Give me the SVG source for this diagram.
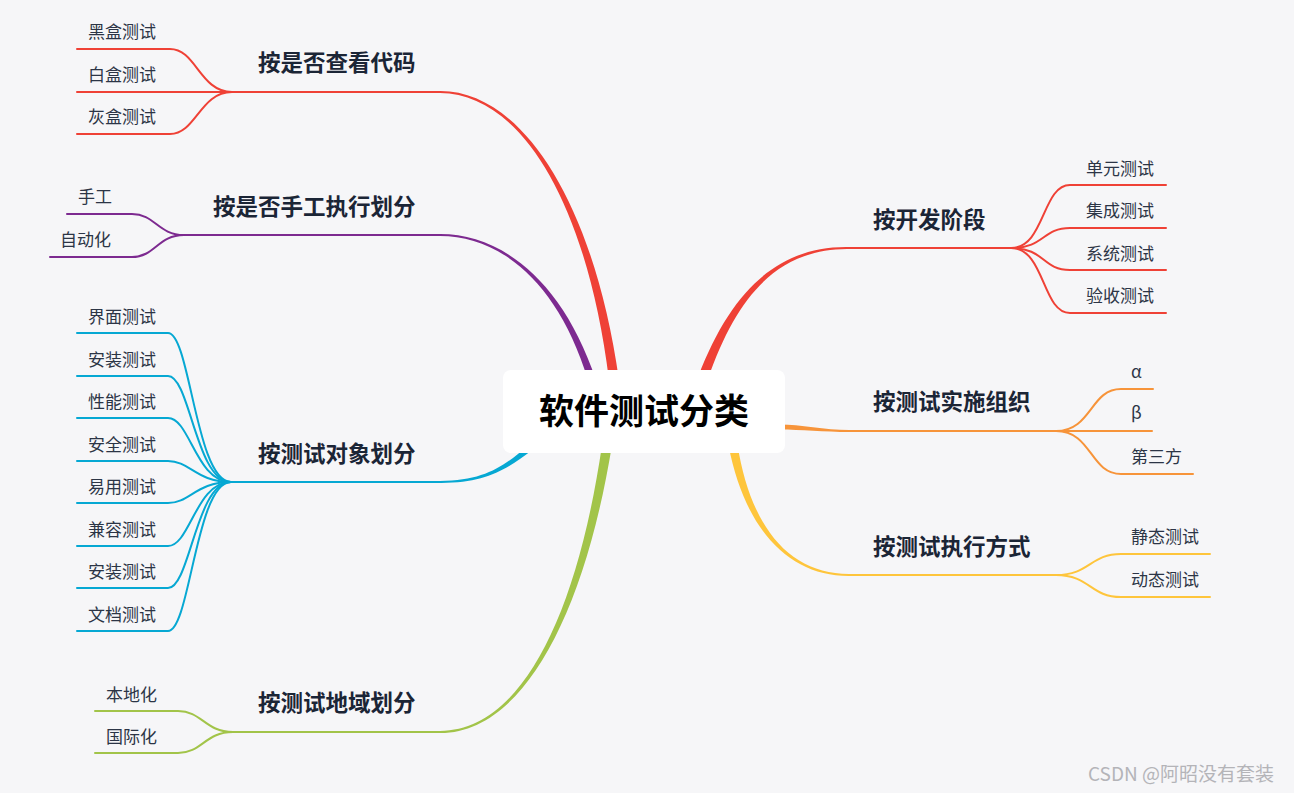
<svg xmlns="http://www.w3.org/2000/svg" width="1294" height="793" viewBox="0 0 1294 793">
<style>
.bg{fill:#f6f6f8}
.ln{fill:none;stroke-width:2;stroke-linecap:round}
.lbl{font-family:"Noto Sans CJK SC","Noto Sans",sans-serif;font-weight:bold;font-size:22.5px;fill:#1b2536}
.leaf{font-family:"Noto Sans CJK SC","Noto Sans",sans-serif;font-size:17px;fill:#2c3546}
.root{font-family:"Noto Sans CJK SC","Noto Sans",sans-serif;font-weight:bold;font-size:35px;fill:#000}
.red{stroke:#ef4136}.redf{fill:#ef4136}
.pur{stroke:#7d2a90}.purf{fill:#7d2a90}
.cya{stroke:#06a8d3}.cyaf{fill:#06a8d3}
.grn{stroke:#a2c449}.grnf{fill:#a2c449}
.org{stroke:#f7943a}.orgf{fill:#f7943a}
.yel{stroke:#fec53c}.yelf{fill:#fec53c}
.wm{font-family:"Noto Sans CJK SC","Noto Sans",sans-serif;font-size:19px;fill:#a9a9ae;opacity:0.85}
</style>
<rect class="bg" x="0" y="0" width="1294" height="793"/>
<g id="connectors">
  <path class="redf" d="M440,91 C520,90.5 593.3,198.9 619,380 L609,380 C586.7,201.1 520,93.5 440,93 Z"/>
  <path class="purf" d="M440,234 C500,233.8 562.1,278.65 596,380 L588,380 C557.9,281.35 500,236.2 440,236 Z"/>
  <path class="cyaf" d="M440,481 C485,480.7 503.7,466.2 528.1,445.7 L531.9,450.3 C506.3,469.8 485,483.3 440,483 Z"/>
  <path class="grnf" d="M440,731 C520,730.5 576.6,619 602,445 L612,445 C583.4,621 520,733.5 440,733 Z"/>
  <path class="redf" d="M847,247 C780,246.5 732,288.2 698.3,376.3 L707.7,379.7 C738,291.8 780,249.5 847,249 Z"/>
  <path class="orgf" d="M849,430 C825,430 800,424.5 780,424.5 L780,429.5 C800,429.5 825,432 849,432 Z"/>
  <path class="yelf" d="M849,574 C790,573.8 750.8,528.8 737.4,444.2 L728.6,445.8 C745.2,531.2 790,576.2 849,576 Z"/>

  <path class="ln red" d="M230,92 H440"/>
  <path class="ln red" d="M77,49 H170 C196,49 200,92 232,92"/>
  <path class="ln red" d="M77,92 H232"/>
  <path class="ln red" d="M77,134 H170 C196,134 200,92 232,92"/>

  <path class="ln pur" d="M182,235 H440"/>
  <path class="ln pur" d="M67,214 H132 C155,214 158,235 184,235"/>
  <path class="ln pur" d="M50,257 H132 C155,257 158,235 184,235"/>

  <path class="ln cya" d="M229,482 H440"/>
  <path class="ln cya" d="M77,333 H168 C190,333 196,482 231,482"/>
  <path class="ln cya" d="M77,376 H168 C190,376 196,482 231,482"/>
  <path class="ln cya" d="M77,418 H168 C190,418 196,482 231,482"/>
  <path class="ln cya" d="M77,461 H168 C190,461 196,482 231,482"/>
  <path class="ln cya" d="M77,503 H168 C190,503 196,482 231,482"/>
  <path class="ln cya" d="M77,546 H168 C190,546 196,482 231,482"/>
  <path class="ln cya" d="M77,588 H168 C190,588 196,482 231,482"/>
  <path class="ln cya" d="M77,631 H168 C190,631 196,482 231,482"/>

  <path class="ln grn" d="M231,732 H440"/>
  <path class="ln grn" d="M95,711 H178 C202,711 205,732 233,732"/>
  <path class="ln grn" d="M95,753 H178 C202,753 205,732 233,732"/>

  <path class="ln red" d="M847,248 H1013"/>
  <path class="ln red" d="M1011,248 C1045,248 1042,185 1070,185 H1166"/>
  <path class="ln red" d="M1011,248 C1045,248 1042,228 1070,228 H1166"/>
  <path class="ln red" d="M1011,248 C1045,248 1042,270 1070,270 H1166"/>
  <path class="ln red" d="M1011,248 C1045,248 1042,313 1070,313 H1166"/>

  <path class="ln org" d="M849,431 H1058"/>
  <path class="ln org" d="M1056,431 C1092,431 1090,389 1121,389 H1153"/>
  <path class="ln org" d="M1056,431 H1152"/>
  <path class="ln org" d="M1056,431 C1092,431 1090,474 1121,474 H1193"/>

  <path class="ln yel" d="M849,575 H1058"/>
  <path class="ln yel" d="M1056,575 C1090,575 1090,554 1121,554 H1210"/>
  <path class="ln yel" d="M1056,575 C1090,575 1090,597 1121,597 H1210"/>
</g>

<g id="root">
  <rect x="503" y="370" width="282" height="83" rx="8" fill="#ffffff"/>
  <text class="root" x="644" y="424" text-anchor="middle">软件测试分类</text>
</g>

<g id="n-code"><text class="lbl" x="258" y="71">按是否查看代码</text></g>
<g id="n-black"><text class="leaf" x="88" y="38">黑盒测试</text></g>
<g id="n-white"><text class="leaf" x="88" y="81">白盒测试</text></g>
<g id="n-gray"><text class="leaf" x="88" y="123">灰盒测试</text></g>

<g id="n-manual"><text class="lbl" x="213" y="215">按是否手工执行划分</text></g>
<g id="n-hand"><text class="leaf" x="78" y="203">手工</text></g>
<g id="n-auto"><text class="leaf" x="60" y="246">自动化</text></g>

<g id="n-object"><text class="lbl" x="258" y="462">按测试对象划分</text></g>
<g id="n-ui"><text class="leaf" x="88" y="323">界面测试</text></g>
<g id="n-install1"><text class="leaf" x="88" y="366">安装测试</text></g>
<g id="n-perf"><text class="leaf" x="88" y="408">性能测试</text></g>
<g id="n-sec"><text class="leaf" x="88" y="451">安全测试</text></g>
<g id="n-usab"><text class="leaf" x="88" y="493">易用测试</text></g>
<g id="n-compat"><text class="leaf" x="88" y="536">兼容测试</text></g>
<g id="n-install2"><text class="leaf" x="88" y="578">安装测试</text></g>
<g id="n-doc"><text class="leaf" x="88" y="621">文档测试</text></g>

<g id="n-region"><text class="lbl" x="258" y="711">按测试地域划分</text></g>
<g id="n-local"><text class="leaf" x="106" y="701">本地化</text></g>
<g id="n-intl"><text class="leaf" x="106" y="743">国际化</text></g>

<g id="n-stage"><text class="lbl" x="873" y="228">按开发阶段</text></g>
<g id="n-unit"><text class="leaf" x="1086" y="175">单元测试</text></g>
<g id="n-integ"><text class="leaf" x="1086" y="217">集成测试</text></g>
<g id="n-system"><text class="leaf" x="1086" y="260">系统测试</text></g>
<g id="n-accept"><text class="leaf" x="1086" y="302">验收测试</text></g>

<g id="n-org"><text class="lbl" x="873" y="410">按测试实施组织</text></g>
<g id="n-alpha"><text class="leaf" x="1131" y="378">α</text></g>
<g id="n-beta"><text class="leaf" x="1131" y="419">β</text></g>
<g id="n-third"><text class="leaf" x="1131" y="463">第三方</text></g>

<g id="n-exec"><text class="lbl" x="873" y="555">按测试执行方式</text></g>
<g id="n-static"><text class="leaf" x="1131" y="543">静态测试</text></g>
<g id="n-dynamic"><text class="leaf" x="1131" y="586">动态测试</text></g>

<g id="watermark">
  <text class="wm" x="1088" y="781">CSDN @阿昭没有套装</text>
</g>
</svg>
